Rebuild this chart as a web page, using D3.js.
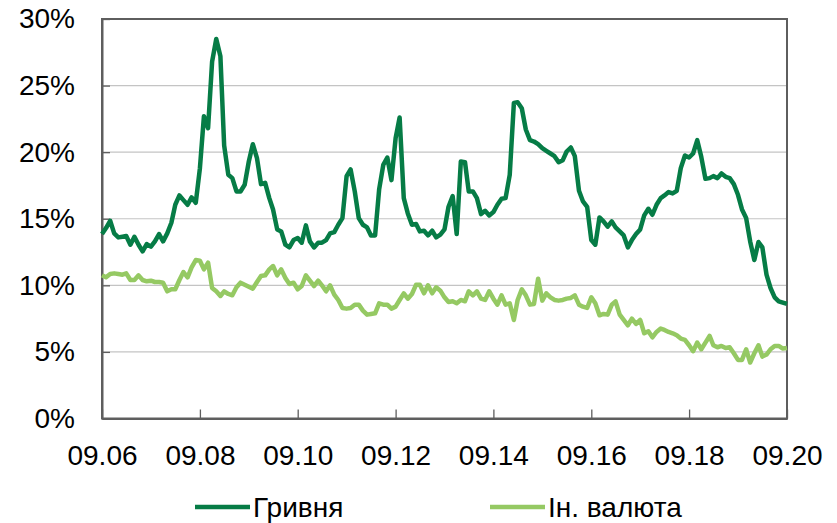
<!DOCTYPE html>
<html lang="uk">
<head>
    <meta charset="UTF-8">
    <title>Гривня / Ін. валюта</title>
    <script type="text/javascript" src="https://d3js.org/d3.v7.min.js"></script>
    <style>
        body { margin: 0; background: #fff; }
        text { font-family: "Liberation Sans", Arial, sans-serif; fill: #000; }
    </style>
</head>
<body>
<svg class="rates"></svg>

<script type="text/javascript">

    const width = 837;
    const height = 523;

    // monthly series, 09.2006 .. 09.2020
    const startMonth = "09.06";

    const hryvnia = [
        13.85, 14.3, 14.85, 13.9, 13.6, 13.65, 13.7, 13.05, 13.65, 13.05,
        12.55, 13.1, 12.9, 13.3, 13.85, 13.3, 13.9, 14.7, 16.05, 16.75,
        16.4, 16.05, 16.6, 16.2, 18.8, 22.7, 21.8, 26.8, 28.5, 27.2,
        20.5, 18.3, 18.05, 17.05, 17.05, 17.55, 19.3, 20.6, 19.55, 17.6,
        17.7, 16.55, 15.7, 14.2, 14.05, 13.05, 12.85, 13.4, 13.55, 13.2,
        14.5, 13.3, 12.85, 13.2, 13.2, 13.4, 13.9, 14.0, 14.55, 15.05,
        18.2, 18.7, 17.05, 15.05, 14.55, 14.35, 13.75, 13.75, 17.2, 19.05,
        19.6, 17.9, 21.05, 22.6, 16.55, 15.4, 14.55, 14.6, 14.05, 14.1,
        13.75, 14.1, 13.6, 13.8, 14.2, 15.9, 16.7, 13.85, 19.3, 19.25,
        17.05, 17.05, 16.55, 15.35, 15.6, 15.25, 15.5, 16.05, 16.5, 16.55,
        18.3, 23.7, 23.75, 23.3, 21.7, 20.9, 20.8, 20.6, 20.3, 20.1,
        19.9, 19.7, 19.25, 19.4, 20.05, 20.35, 19.7, 17.1, 16.3, 15.9,
        13.4, 13.05, 15.1, 14.8, 14.4, 14.8, 14.35, 14.05, 13.75, 12.85,
        13.4, 13.85, 14.2, 15.25, 15.75, 15.3, 16.05, 16.55, 16.75, 17.0,
        16.9, 17.1, 18.8, 19.75, 19.6, 19.9, 20.9, 19.65, 18.0, 18.05,
        18.2, 18.05, 18.4, 18.15, 18.05, 17.6, 16.8, 15.7, 15.05, 13.3,
        11.9, 13.25, 12.85, 10.8, 9.8, 9.1, 8.8, 8.7, 8.6
    ];

    const foreignCurrency = [
        10.75, 10.6, 10.85, 10.9, 10.85, 10.8, 10.9, 10.4, 10.4, 10.75,
        10.4, 10.3, 10.35, 10.25, 10.25, 10.2, 9.55, 9.7, 9.7, 10.4,
        11.0, 10.6, 11.35, 11.9, 11.85, 11.2, 11.7, 9.8, 9.55, 9.2,
        9.55, 9.35, 9.25, 9.85, 10.2, 10.05, 9.9, 9.75, 10.25, 10.7,
        10.75, 11.2, 11.45, 10.75, 11.2, 10.55, 10.1, 10.2, 9.7, 9.95,
        10.75, 10.35, 9.95, 10.35, 10.0, 9.55, 10.0, 9.3, 8.9, 8.3,
        8.25, 8.3, 8.55, 8.55, 8.1, 7.8, 7.85, 7.9, 8.65, 8.55,
        8.55, 8.25, 8.4, 8.9, 9.4, 9.0, 9.35, 10.05, 10.05, 9.4,
        10.0, 9.4, 9.85, 9.6, 9.1, 8.75, 8.8, 8.65, 8.9, 8.8,
        9.55, 9.25, 9.55, 9.0, 8.9, 9.55, 9.0, 8.55, 9.25, 8.55,
        8.65, 7.4, 8.9, 9.7, 9.25, 8.55, 8.6, 10.5, 8.85, 9.4,
        9.1, 8.9, 8.85, 8.9, 9.0, 9.05, 9.25, 8.55, 8.4, 8.3,
        9.1, 8.65, 7.75, 7.85, 7.8, 8.55, 8.8, 7.8, 7.4, 7.0,
        7.5, 7.1, 7.4, 6.4, 6.55, 6.1, 6.5, 6.75, 6.65, 6.5,
        6.4, 6.25, 6.0, 5.9, 5.5, 5.05, 5.7, 5.2, 5.7, 6.2,
        5.5, 5.35, 5.45, 5.3, 5.35, 4.9, 4.4, 4.4, 5.2, 4.2,
        4.9, 5.5, 4.65, 4.8, 5.2, 5.45, 5.45, 5.25, 5.3
    ];

    const xTickLabels = ["09.06", "09.08", "09.10", "09.12", "09.14", "09.16", "09.18", "09.20"];
    const yTicks = [0, 5, 10, 15, 20, 25, 30];
    const seriesNames = ["Гривня", "Ін. валюта"];

    const colors = ["#067c46", "#95c963"];

    const margin = {top: 19, right: 50, bottom: 104.5, left: 102};

    let svg = d3.select(".rates")
        .attr("width", width)
        .attr("height", height);

    let parseMonth = d3.timeParse("%m.%y");
    let start = parseMonth(startMonth);

    let series = [hryvnia, foreignCurrency].map(function (vals) {
        return vals.map(function (v, i) {
            return {date: d3.timeMonth.offset(start, i), value: v};
        });
    });

    let scaleX = d3.scaleTime()
        .domain([start, d3.timeMonth.offset(start, hryvnia.length - 1)])
        .range([margin.left, width - margin.right]);

    let scaleY = d3.scaleLinear()
        .domain([0, 30])
        .range([height - margin.bottom, margin.top]);

    let g = svg.append("g");

    // gridlines
    g.append("g")
        .selectAll("line")
        .data(yTicks.slice(1, -1))
        .enter().append("line")
        .attr("x1", margin.left)
        .attr("x2", width - margin.right)
        .attr("y1", d => scaleY(d))
        .attr("y2", d => scaleY(d))
        .attr("stroke", "#c4c4c4")
        .attr("stroke-width", 1.2);

    // frame
    g.append("rect")
        .attr("x", margin.left)
        .attr("y", margin.top)
        .attr("width", width - margin.right - margin.left)
        .attr("height", height - margin.bottom - margin.top)
        .attr("fill", "none")
        .attr("stroke", "#5e5e5e")
        .attr("stroke-width", 2);

    let yAxis = g.append("g")
        .attr("transform", "translate(" + margin.left + ",0)")
        .call(d3.axisLeft(scaleY)
            .tickValues(yTicks)
            .tickFormat(d => d + "%")
            .tickSizeInner(-8)
            .tickSizeOuter(0)
            .tickPadding(27));

    let xAxis = g.append("g")
        .attr("transform", "translate(0," + (height - margin.bottom) + ")")
        .call(d3.axisBottom(scaleX)
            .tickValues(xTickLabels.map(parseMonth))
            .tickFormat(d3.timeFormat("%m.%y"))
            .tickSizeInner(-9)
            .tickSizeOuter(0)
            .tickPadding(26.5));

    [yAxis, xAxis].forEach(function (ax) {
        ax.select(".domain").attr("stroke", "#5e5e5e").attr("stroke-width", 2);
        ax.selectAll(".tick line").attr("stroke", "#5e5e5e").attr("stroke-width", 1.3);
        ax.selectAll(".tick text")
            .style("font-family", "'Liberation Sans', Arial, sans-serif")
            .style("font-size", "28px")
            .attr("fill", "#000");
    });

    let line = d3.line()
        .x(d => scaleX(d.date))
        .y(d => scaleY(d.value));

    // light series first, dark on top
    [1, 0].forEach(function (k) {
        g.append("path")
            .datum(series[k])
            .attr("d", line)
            .attr("fill", "none")
            .attr("stroke", colors[k])
            .attr("stroke-width", 4.5)
            .attr("stroke-linejoin", "round")
            .attr("stroke-linecap", "butt");
    });

    // legend
    let legendX = [195, 490];
    let legend = svg.append("g");
    seriesNames.forEach(function (name, k) {
        legend.append("line")
            .attr("x1", legendX[k])
            .attr("x2", legendX[k] + 55)
            .attr("y1", 507)
            .attr("y2", 507)
            .attr("stroke", colors[k])
            .attr("stroke-width", 4.5);
        legend.append("text")
            .attr("x", legendX[k] + 58)
            .attr("y", 517)
            .style("font-size", "28px")
            .text(name);
    });

</script>

</body>
</html>
